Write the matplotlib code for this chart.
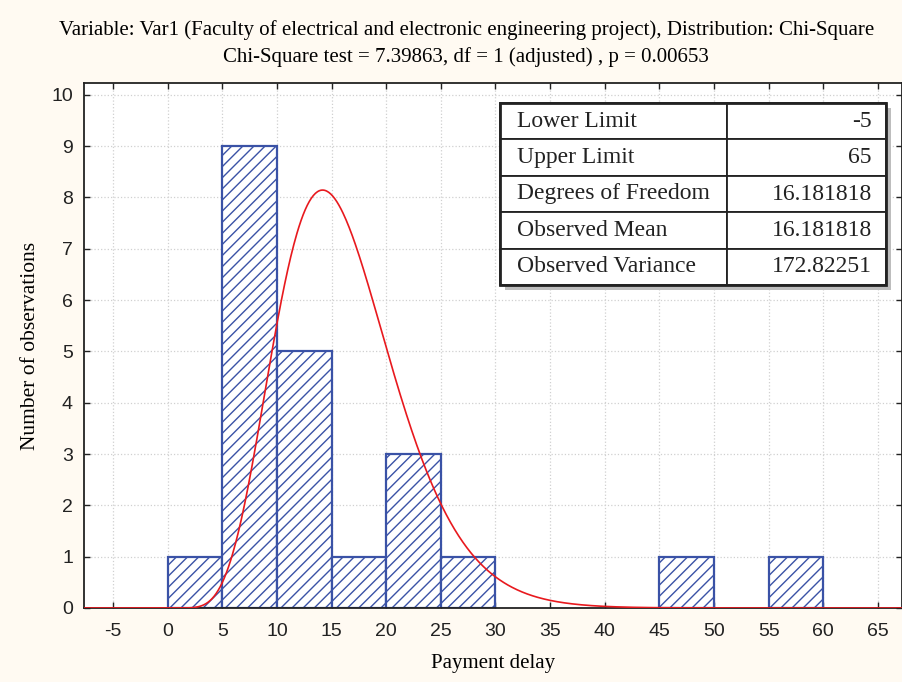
import math
import numpy as np
import matplotlib
matplotlib.use("Agg")
import matplotlib.pyplot as plt
from matplotlib.patches import Rectangle

# histogram counts (bin edges step 5)
bin_left = [0, 5, 10, 15, 20, 25, 45, 55]
counts = [1, 9, 5, 1, 3, 1, 1, 1]
bin_width = 5

# fit parameters shown in the table
lower_limit = -5
upper_limit = 65
dof = 16.181818
obs_mean = 16.181818
obs_var = 172.82251

table_labels = ["Lower Limit", "Upper Limit", "Degrees of Freedom",
                "Observed Mean", "Observed Variance"]
table_values = ["-5", "65", "16.181818", "16.181818", "172.82251"]

xticks = list(range(-5, 70, 5))
yticks = list(range(0, 11))


def chi2_pdf(x, k):
    out = np.zeros_like(x)
    pos = x > 0
    h = k / 2.0
    out[pos] = np.exp((h - 1) * np.log(x[pos]) - x[pos] / 2 - h * math.log(2) - math.lgamma(h))
    return out


serif = "Liberation Serif"
sans = "Liberation Sans"
bg = "#fffaf2"
bar_blue = "#3a52a6"

plt.rcParams["hatch.linewidth"] = 1.0
plt.rcParams["hatch.color"] = bar_blue
plt.rcParams["axes.unicode_minus"] = False

fig = plt.figure(figsize=(9.02, 6.82), dpi=100, facecolor=bg)
ax = fig.add_axes([84 / 902, 1 - 608 / 682, 818 / 902, 525 / 682])
ax.set_facecolor("white")

ax.bar(bin_left, counts, width=bin_width, align="edge", facecolor="white",
       edgecolor=bar_blue, linewidth=1.6, hatch="///", zorder=2)

xmin, xmax = -7.65, 67.2
xs = np.linspace(xmin, xmax, 800)
n_total = sum(counts)
ax.plot(xs, chi2_pdf(xs, dof) * n_total * bin_width, color="#e8191e", lw=1.2, zorder=3)

ax.set_xlim(xmin, xmax)
ax.set_ylim(0, 10.23)
ax.set_xticks(xticks)
ax.set_yticks(yticks)
ax.grid(True, color="#d0d0d0", linestyle=":", linewidth=0.9, zorder=0)
ax.set_axisbelow(True)
ax.tick_params(direction="in", length=4, width=1, top=True, right=True,
               labelsize=14, colors="#222222")
ax.tick_params(axis="x", pad=11)
ax.tick_params(axis="y", pad=8)
for lab in ax.get_xticklabels() + ax.get_yticklabels():
    lab.set_fontfamily(sans)
for side in ["left", "top", "bottom", "right"]:
    ax.spines[side].set_linewidth(1.3)
    ax.spines[side].set_color("#222222")

ax.set_xlabel("Payment delay", fontfamily=serif, fontsize=15, labelpad=10)
ax.set_ylabel("Number of observations", fontfamily=serif, fontsize=15.5, labelpad=8)

fig.text(0.517, 1 - 30 / 682, "Variable: Var1 (Faculty of electrical and electronic engineering project), Distribution: Chi-Square",
         ha="center", va="center", fontfamily=serif, fontsize=15)
fig.text(0.517, 1 - 57 / 682, "Chi-Square test = 7.39863, df = 1 (adjusted) , p = 0.00653",
         ha="center", va="center", fontfamily=serif, fontsize=15)

# parameter table
tx0, tx1 = (500 - 84) / 818, (886 - 84) / 818
ty0, ty1 = (608 - 285) / 525, (608 - 103) / 525
ax.add_patch(Rectangle((tx0 + 0.006, ty0 - 0.01), tx1 - tx0, ty1 - ty0,
                       transform=ax.transAxes, facecolor="#bdbdbd", edgecolor="none", zorder=4))
tbl = ax.table(cellText=[[a, b] for a, b in zip(table_labels, table_values)],
               colWidths=[0.588, 0.412], bbox=[tx0, ty0, tx1 - tx0, ty1 - ty0], zorder=5)
tbl.auto_set_font_size(False)
for (r, c), cell in tbl.get_celld().items():
    cell.set_facecolor("white")
    cell.set_edgecolor("#222222")
    cell.set_linewidth(1.3)
    txt = cell.get_text()
    txt.set_fontfamily(serif)
    txt.set_fontsize(17)
    txt.set_color("#222222")
    if c == 0:
        txt.set_ha("left")
        cell.PAD = 0.075
    else:
        txt.set_ha("right")
        cell.PAD = 0.09
ax.add_patch(Rectangle((tx0, ty0), tx1 - tx0, ty1 - ty0, transform=ax.transAxes,
                       facecolor="none", edgecolor="#222222", lw=2.0, zorder=6))

fig.savefig("out.png", dpi=100, facecolor=bg)
